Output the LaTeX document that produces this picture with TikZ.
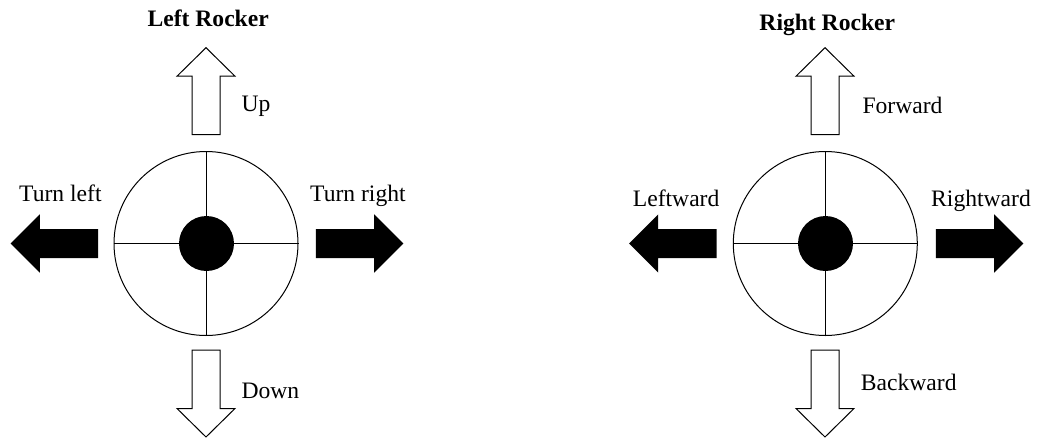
\documentclass[tikz,border=0pt]{standalone}
\usepackage{fontspec}
\setmainfont{Liberation Serif}
\begin{document}
\begin{tikzpicture}[x=1pt,y=-1pt,
  lbl/.style={anchor=base west,inner sep=0pt,font=\fontsize{23.6}{28}\selectfont},
  title/.style={anchor=base,inner sep=0pt,font=\fontsize{23.6}{28}\selectfont\bfseries},
  ring/.style={circle,draw=black,line width=1pt,minimum size=184pt,inner sep=0pt},
  knob/.style={circle,fill=black,minimum size=55pt,inner sep=0pt},
  cross/.style={line width=1pt},
  outlinearr/.style={draw=black,fill=white,line width=1pt,line join=miter},
  solidarr/.style={fill=black},
  harrow/.pic={\path[pic actions] (0,0) -- (-29.2,29.2) -- (-29.2,14.5) -- (-87.5,14.5) -- (-87.5,-14.5) -- (-29.2,-14.5) -- (-29.2,-29.2) -- cycle;},
  varrow/.pic={\path[pic actions] (0,0) -- (29,28.5) -- (14,28.5) -- (14,87) -- (-14,87) -- (-14,28.5) -- (-29,28.5) -- cycle;}
]
\useasboundingbox (0,0) rectangle (1037,437);

% ---------- Left rocker ----------
\node[ring] (Lring) at (206,243.5) {};
\draw[cross] (Lring.north) -- (Lring.south);
\draw[cross] (Lring.west) -- (Lring.east);
\node[knob] (Lknob) at (206.5,243.5) {};
\pic[outlinearr] at (206,47.7) {varrow};
\pic[outlinearr,yscale=-1] at (206,437) {varrow};
\pic[solidarr,xscale=-1] at (10.7,243.5) {harrow};
\pic[solidarr] at (403.3,243.5) {harrow};
\node[title] (Ltitle) at (208.2,26.7) {Left Rocker};
\node[lbl] (Lup) at (241.3,111.7) {Up};
\node[lbl] (Lleft) at (19,201.7) {Turn left};
\node[lbl] (Lright) at (310,201.7) {Turn right};
\node[lbl] (Ldown) at (241.3,398.3) {Down};

% ---------- Right rocker ----------
\node[ring] (Rring) at (825.3,243.5) {};
\draw[cross] (Rring.north) -- (Rring.south);
\draw[cross] (Rring.west) -- (Rring.east);
\node[knob] (Rknob) at (825.5,243.5) {};
\pic[outlinearr] at (825,47.7) {varrow};
\pic[outlinearr,yscale=-1] at (825,437) {varrow};
\pic[solidarr,xscale=-1] at (629,243.5) {harrow};
\pic[solidarr] at (1023.3,243.5) {harrow};
\node[title] (Rtitle) at (827.3,30) {Right Rocker};
\node[lbl] (Rup) at (862.3,113.3) {Forward};
\node[lbl] (Rleft) at (632.7,206) {Leftward};
\node[lbl] (Rright) at (931,206) {Rightward};
\node[lbl] (Rdown) at (860.7,390) {Backward};
\end{tikzpicture}
\end{document}
